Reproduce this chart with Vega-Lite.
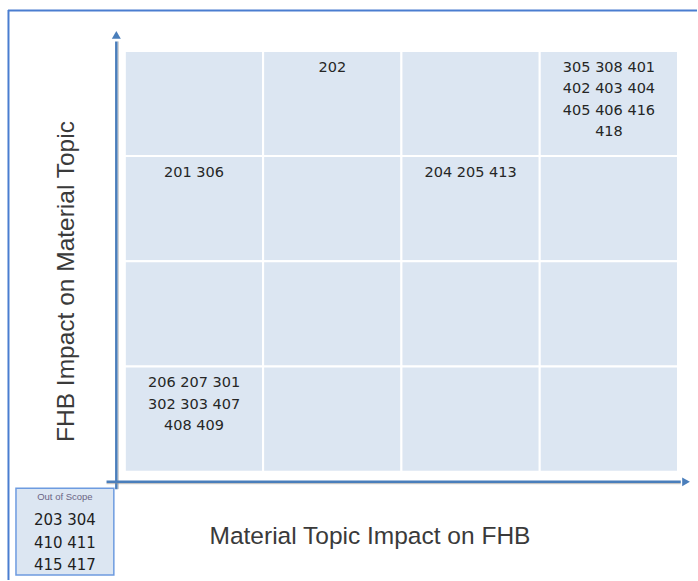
{
  "$schema": "https://vega.github.io/schema/vega-lite/v6.json",
  "width": 698,
  "height": 581,
  "padding": 0,
  "autosize": {"type": "fit", "contains": "padding"},
  "background": "white",
  "config": {"view": {"stroke": null}},
  "datasets": {
    "cells": [
      {"topic_from": 0, "topic_to": 1, "fhb_from": 3, "fhb_to": 4, "topics": ""},
      {"topic_from": 1, "topic_to": 2, "fhb_from": 3, "fhb_to": 4, "topics": "202"},
      {"topic_from": 2, "topic_to": 3, "fhb_from": 3, "fhb_to": 4, "topics": ""},
      {"topic_from": 3, "topic_to": 4, "fhb_from": 3, "fhb_to": 4, "topics": "305 308 401\n402 403 404\n405 406 416\n418"},
      {"topic_from": 0, "topic_to": 1, "fhb_from": 2, "fhb_to": 3, "topics": "201 306"},
      {"topic_from": 1, "topic_to": 2, "fhb_from": 2, "fhb_to": 3, "topics": ""},
      {"topic_from": 2, "topic_to": 3, "fhb_from": 2, "fhb_to": 3, "topics": "204 205 413"},
      {"topic_from": 3, "topic_to": 4, "fhb_from": 2, "fhb_to": 3, "topics": ""},
      {"topic_from": 0, "topic_to": 1, "fhb_from": 1, "fhb_to": 2, "topics": ""},
      {"topic_from": 1, "topic_to": 2, "fhb_from": 1, "fhb_to": 2, "topics": ""},
      {"topic_from": 2, "topic_to": 3, "fhb_from": 1, "fhb_to": 2, "topics": ""},
      {"topic_from": 3, "topic_to": 4, "fhb_from": 1, "fhb_to": 2, "topics": ""},
      {"topic_from": 0, "topic_to": 1, "fhb_from": 0, "fhb_to": 1, "topics": "206 207 301\n302 303 407\n408 409"},
      {"topic_from": 1, "topic_to": 2, "fhb_from": 0, "fhb_to": 1, "topics": ""},
      {"topic_from": 2, "topic_to": 3, "fhb_from": 0, "fhb_to": 1, "topics": ""},
      {"topic_from": 3, "topic_to": 4, "fhb_from": 0, "fhb_to": 1, "topics": ""}
    ],
    "out_of_scope": [
      {"label": "Out of Scope", "topics": "203 304\n410 411\n415 417"}
    ],
    "frame": [{}]
  },
  "layer": [
    {
      "data": {"name": "frame"},
      "mark": {"type": "rule", "stroke": "#4a7dd0", "strokeWidth": 2},
      "encoding": {
        "x": {"datum": -0.8448, "type": "quantitative", "scale": {"domain": [-0.9025, 4.1372], "nice": false, "zero": false}, "axis": null},
        "x2": {"datum": 4.1372},
        "y": {"datum": 4.3843, "type": "quantitative", "scale": {"domain": [-1.0297, 4.484], "nice": false, "zero": false}, "axis": null}
      }
    },
    {
      "data": {"name": "frame"},
      "mark": {"type": "rule", "stroke": "#4a7dd0", "strokeWidth": 2},
      "encoding": {
        "x": {"datum": -0.8412, "type": "quantitative", "scale": {"domain": [-0.9025, 4.1372], "nice": false, "zero": false}, "axis": null},
        "y": {"datum": 4.389, "type": "quantitative", "scale": {"domain": [-1.0297, 4.484], "nice": false, "zero": false}, "axis": null},
        "y2": {"datum": -1.0297}
      }
    },
    {
      "data": {"name": "cells"},
      "mark": {"type": "rect", "fill": "#dce6f2", "stroke": "white", "strokeWidth": 2},
      "encoding": {
        "x": {"field": "topic_from", "type": "quantitative", "scale": {"domain": [-0.9025, 4.1372], "nice": false, "zero": false}, "axis": null},
        "x2": {"field": "topic_to"},
        "y": {"field": "fhb_from", "type": "quantitative", "scale": {"domain": [-1.0297, 4.484], "nice": false, "zero": false}, "axis": null},
        "y2": {"field": "fhb_to"}
      }
    },
    {
      "data": {"name": "cells"},
      "mark": {"type": "text", "font": "DejaVu Sans", "fontSize": 14.5, "color": "#262626", "align": "center", "baseline": "alphabetic", "lineBreak": "\n", "lineHeight": 21.5, "dx": 69.25, "dy": 21},
      "encoding": {
        "x": {"field": "topic_from", "type": "quantitative", "scale": {"domain": [-0.9025, 4.1372], "nice": false, "zero": false}, "axis": null},
        "y": {"field": "fhb_to", "type": "quantitative", "scale": {"domain": [-1.0297, 4.484], "nice": false, "zero": false}, "axis": null},
        "text": {"field": "topics"}
      }
    },
    {
      "data": {"name": "frame"},
      "mark": {"type": "rule", "stroke": "#8a8a8a", "strokeWidth": 1, "opacity": 0.6, "xOffset": 1.8},
      "encoding": {
        "x": {"datum": -0.0614, "type": "quantitative", "scale": {"domain": [-0.9025, 4.1372], "nice": false, "zero": false}, "axis": null},
        "y": {"datum": -0.1661, "type": "quantitative", "scale": {"domain": [-1.0297, 4.484], "nice": false, "zero": false}, "axis": null},
        "y2": {"datum": 4.09}
      }
    },
    {
      "data": {"name": "frame"},
      "mark": {"type": "rule", "stroke": "#4a7ebb", "strokeWidth": 2.5},
      "encoding": {
        "x": {"datum": -0.0614, "type": "quantitative", "scale": {"domain": [-0.9025, 4.1372], "nice": false, "zero": false}, "axis": null},
        "y": {"datum": -0.1661, "type": "quantitative", "scale": {"domain": [-1.0297, 4.484], "nice": false, "zero": false}, "axis": null},
        "y2": {"datum": 4.09}
      }
    },
    {
      "data": {"name": "frame"},
      "mark": {"type": "point", "shape": "triangle-up", "filled": true, "color": "#4a7ebb", "size": 80, "opacity": 1},
      "encoding": {
        "x": {"datum": -0.0614, "type": "quantitative", "scale": {"domain": [-0.9025, 4.1372], "nice": false, "zero": false}, "axis": null},
        "y": {"datum": 4.152, "type": "quantitative", "scale": {"domain": [-1.0297, 4.484], "nice": false, "zero": false}, "axis": null}
      }
    },
    {
      "data": {"name": "frame"},
      "mark": {"type": "rule", "stroke": "#8a8a8a", "strokeWidth": 1, "opacity": 0.6, "yOffset": 1.8},
      "encoding": {
        "x": {"datum": -0.1322, "type": "quantitative", "scale": {"domain": [-0.9025, 4.1372], "nice": false, "zero": false}, "axis": null},
        "x2": {"datum": 4.02},
        "y": {"datum": -0.0968, "type": "quantitative", "scale": {"domain": [-1.0297, 4.484], "nice": false, "zero": false}, "axis": null}
      }
    },
    {
      "data": {"name": "frame"},
      "mark": {"type": "rule", "stroke": "#4a7ebb", "strokeWidth": 2.5},
      "encoding": {
        "x": {"datum": -0.1322, "type": "quantitative", "scale": {"domain": [-0.9025, 4.1372], "nice": false, "zero": false}, "axis": null},
        "x2": {"datum": 4.02},
        "y": {"datum": -0.0968, "type": "quantitative", "scale": {"domain": [-1.0297, 4.484], "nice": false, "zero": false}, "axis": null}
      }
    },
    {
      "data": {"name": "frame"},
      "mark": {"type": "point", "shape": "triangle-right", "filled": true, "color": "#4a7ebb", "size": 80, "opacity": 1},
      "encoding": {
        "x": {"datum": 4.058, "type": "quantitative", "scale": {"domain": [-0.9025, 4.1372], "nice": false, "zero": false}, "axis": null},
        "y": {"datum": -0.0968, "type": "quantitative", "scale": {"domain": [-1.0297, 4.484], "nice": false, "zero": false}, "axis": null}
      }
    },
    {
      "data": {"name": "frame"},
      "mark": {"type": "text", "text": "Material Topic Impact on FHB", "font": "Liberation Sans", "fontSize": 24.5, "color": "#3a3a3a", "align": "center", "baseline": "middle"},
      "encoding": {
        "x": {"datum": 1.7726, "type": "quantitative", "scale": {"domain": [-0.9025, 4.1372], "nice": false, "zero": false}, "axis": null},
        "y": {"datum": -0.6216, "type": "quantitative", "scale": {"domain": [-1.0297, 4.484], "nice": false, "zero": false}, "axis": null}
      }
    },
    {
      "data": {"name": "frame"},
      "mark": {"type": "text", "text": "FHB Impact on Material Topic", "font": "Liberation Sans", "fontSize": 24.5, "color": "#3a3a3a", "align": "center", "baseline": "middle", "angle": 270},
      "encoding": {
        "x": {"datum": -0.4188, "type": "quantitative", "scale": {"domain": [-0.9025, 4.1372], "nice": false, "zero": false}, "axis": null},
        "y": {"datum": 1.8078, "type": "quantitative", "scale": {"domain": [-1.0297, 4.484], "nice": false, "zero": false}, "axis": null}
      }
    },
    {
      "data": {"name": "frame"},
      "mark": {"type": "rect", "fill": "#dce6f2", "stroke": "#6d9be0", "strokeWidth": 1.5},
      "encoding": {
        "x": {"datum": -0.787, "type": "quantitative", "scale": {"domain": [-0.9025, 4.1372], "nice": false, "zero": false}, "axis": null},
        "x2": {"datum": -0.0794},
        "y": {"datum": -0.1566, "type": "quantitative", "scale": {"domain": [-1.0297, 4.484], "nice": false, "zero": false}, "axis": null},
        "y2": {"datum": -0.9822}
      }
    },
    {
      "data": {"name": "out_of_scope"},
      "mark": {"type": "text", "font": "Liberation Sans", "fontSize": 9.5, "color": "#6b6585", "align": "center", "baseline": "middle"},
      "encoding": {
        "x": {"datum": -0.4332, "type": "quantitative", "scale": {"domain": [-0.9025, 4.1372], "nice": false, "zero": false}, "axis": null},
        "y": {"datum": -0.2372, "type": "quantitative", "scale": {"domain": [-1.0297, 4.484], "nice": false, "zero": false}, "axis": null},
        "text": {"field": "label"}
      }
    },
    {
      "data": {"name": "out_of_scope"},
      "mark": {"type": "text", "font": "DejaVu Sans", "fontSize": 15, "color": "#1e1e1e", "align": "center", "baseline": "alphabetic", "lineBreak": "\n", "lineHeight": 22.5},
      "encoding": {
        "x": {"datum": -0.4332, "type": "quantitative", "scale": {"domain": [-0.9025, 4.1372], "nice": false, "zero": false}, "axis": null},
        "y": {"datum": -0.5077, "type": "quantitative", "scale": {"domain": [-1.0297, 4.484], "nice": false, "zero": false}, "axis": null},
        "text": {"field": "topics"}
      }
    }
  ]
}
